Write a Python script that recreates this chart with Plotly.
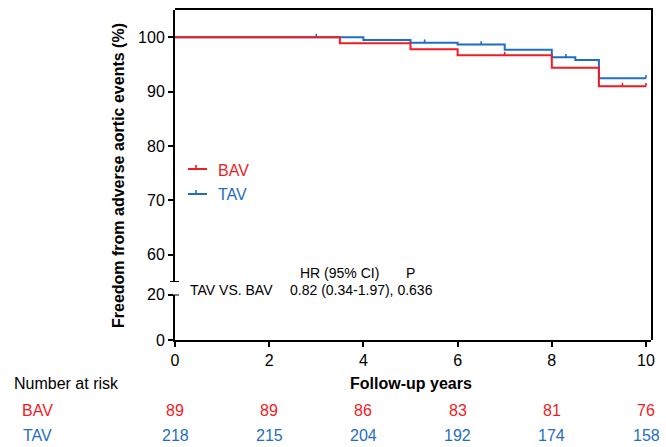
import plotly.graph_objects as go

# ---------------- data ----------------
years = [0, 2, 4, 6, 8, 10]
bav_risk = [89, 89, 86, 83, 81, 76]
tav_risk = [218, 215, 204, 192, 174, 158]

bav_t = [0, 3.5, 5.0, 6.0, 8.0, 9.0, 10.0]
bav_s = [100, 98.9, 97.8, 96.7, 94.4, 91.0, 91.0]
tav_t = [0, 4.0, 5.0, 6.0, 7.0, 8.0, 8.5, 9.0, 10.0]
tav_s = [100, 99.5, 99.0, 98.65, 97.7, 96.3, 95.8, 92.45, 92.45]

bav_cens_t = [7.0, 9.5, 10.0]
bav_cens_s = [96.7, 91.0, 91.0]
tav_cens_t = [3.0, 5.3, 6.5, 8.3, 10.0]
tav_cens_s = [100, 99.0, 98.65, 96.3, 92.45]

upper_ticks = [60, 70, 80, 90, 100]
lower_ticks = [0, 20]

RED = "#ee1c25"
BLUE = "#1f6dc6"
FONT = "Arial, Liberation Sans, sans-serif"

W, H = 666, 447
L, R, T, B = 175, 15, 10, 107
PW, PH = W - L - R, H - T - B


def px_x(px):
    return (px - L) / PW


def px_y(py):
    return (H - B - py) / PH


fig = go.Figure()

# invisible helper trace so the frame axes (top / right) are drawn
fig.add_trace(go.Scatter(x=[None], y=[None], xaxis="x2", yaxis="y3", showlegend=False,
                         hoverinfo="skip"))

# curves (blue first, red on top)
for t, s, ct, cs, col in [(tav_t, tav_s, tav_cens_t, tav_cens_s, BLUE),
                           (bav_t, bav_s, bav_cens_t, bav_cens_s, RED)]:
    fig.add_trace(go.Scatter(x=t, y=s, mode="lines", line=dict(color=col, width=2, shape="hv"),
                             xaxis="x", yaxis="y2", showlegend=False, hoverinfo="skip"))
    fig.add_trace(go.Scatter(x=ct, y=cs, mode="markers", marker=dict(size=1, color=col, opacity=0),
                             error_y=dict(type="constant", value=0.6, valueminus=0, symmetric=False,
                                          width=0, thickness=1.6, color=col),
                             xaxis="x", yaxis="y2", showlegend=False, hoverinfo="skip"))

axis_common = dict(showline=True, linewidth=2, linecolor="black", ticks="outside",
                   ticklen=5, tickwidth=2, tickcolor="black", showgrid=False, zeroline=False,
                   automargin=False,
                   tickfont=dict(family=FONT, size=16, color="black"))
frame_axis = dict(showline=True, linewidth=2, linecolor="black", ticks="", showticklabels=False,
                  showgrid=False, zeroline=False, automargin=False, range=[0, 1])

lower_top = px_y(294.5)
upper_bottom = px_y(282)
xmax = PW / 47.1

fig.update_layout(
    width=W, height=H, autosize=False,
    margin=dict(l=L, r=R, t=T, b=B, pad=0, autoexpand=False),
    plot_bgcolor="rgba(0,0,0,0)", paper_bgcolor="white",
    showlegend=False,
    xaxis=dict(range=[0, xmax], tickvals=years, anchor="y", **axis_common),
    yaxis=dict(range=[0, 20], domain=[0, lower_top], tickvals=lower_ticks, anchor="x", **axis_common),
    yaxis2=dict(range=[55, 105], domain=[upper_bottom, 1], tickvals=upper_ticks, anchor="x", **axis_common),
    xaxis2=dict(domain=[0, 1], side="top", anchor="y3", **frame_axis),
    yaxis3=dict(domain=[0, 1], side="right", anchor="x2", **frame_axis),
)

shapes = []
# axis break caps
shapes.append(dict(type="line", xref="paper", xsizemode="pixel", xanchor=0, x0=-5, x1=4,
                   yref="y2", y0=55, y1=55, line=dict(color="black", width=2)))
shapes.append(dict(type="line", xref="paper", xsizemode="pixel", xanchor=0, x0=-5, x1=4,
                   yref="y", y0=20, y1=20, line=dict(color="black", width=2)))

# manual legend
ann = []
for name, col, ly in [("BAV", RED, 169), ("TAV", BLUE, 194)]:
    shapes.append(dict(type="line", xref="paper", yref="paper", x0=px_x(188), x1=px_x(207),
                       y0=px_y(ly), y1=px_y(ly), line=dict(color=col, width=2)))
    shapes.append(dict(type="line", xref="paper", yref="paper", x0=px_x(196), x1=px_x(196),
                       y0=px_y(ly), y1=px_y(ly - 4), line=dict(color=col, width=1.6)))
    ann.append(dict(text=name, xref="paper", yref="paper", x=px_x(216), y=px_y(ly + 1),
                    xanchor="left", yanchor="middle", showarrow=False,
                    font=dict(family=FONT, size=16, color=col)))

fig.update_layout(shapes=shapes)

# y-axis title
ann.append(dict(text="<b>Freedom from adverse aortic events (%)</b>", xref="paper", yref="paper",
                x=px_x(118), y=px_y(176), textangle=-90, showarrow=False,
                xanchor="center", yanchor="middle", font=dict(family=FONT, size=16, color="black")))
# x-axis title
ann.append(dict(text="<b>Follow-up years</b>", xref="x", yref="paper", x=5, y=px_y(383),
                showarrow=False, xanchor="center", yanchor="middle",
                font=dict(family=FONT, size=16, color="black")))
# HR text
for txt, x, y in [("HR (95% CI)", 298, 273), ("P", 404, 273),
                  ("TAV VS. BAV", 188, 290), ("0.82 (0.34-1.97), 0.636", 288, 290)]:
    ann.append(dict(text=txt, xref="paper", yref="paper", x=px_x(x), y=px_y(y),
                    xanchor="left", yanchor="middle", showarrow=False,
                    font=dict(family=FONT, size=14, color="black")))
# risk table
ann.append(dict(text="Number at risk", xref="paper", yref="paper", x=px_x(12), y=px_y(383),
                xanchor="left", yanchor="middle", showarrow=False,
                font=dict(family=FONT, size=16, color="black")))
for name, vals, col, ry in [("BAV", bav_risk, RED, 410), ("TAV", tav_risk, BLUE, 435)]:
    ann.append(dict(text=name, xref="paper", yref="paper", x=px_x(37), y=px_y(ry),
                    xanchor="center", yanchor="middle", showarrow=False,
                    font=dict(family=FONT, size=16, color=col)))
    for yr, v in zip(years, vals):
        ann.append(dict(text=str(v), xref="x", yref="paper", x=yr, y=px_y(ry),
                        xanchor="center", yanchor="middle", showarrow=False,
                        font=dict(family=FONT, size=16, color=col)))

fig.update_layout(annotations=ann)
fig.write_html("out.html", config={"responsive": False, "displayModeBar": False},
               post_script="document.body.style.margin='0';document.body.style.overflow='hidden';")
